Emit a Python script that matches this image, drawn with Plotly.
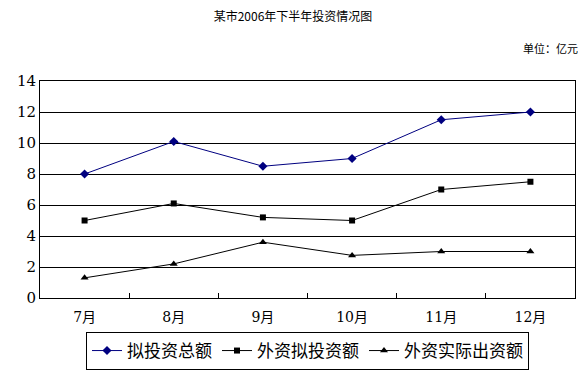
import plotly.graph_objects as go

months = ["7月", "8月", "9月", "10月", "11月", "12月"]
total_planned = [8.0, 10.1, 8.5, 9.0, 11.5, 12.0]
foreign_planned = [5.0, 6.1, 5.2, 5.0, 7.0, 7.5]
foreign_actual = [1.3, 2.2, 3.6, 2.75, 3.0, 3.0]
y_ticks = [0, 2, 4, 6, 8, 10, 12, 14]

NUMFONT = "DejaVu Serif, Noto Sans CJK SC, serif"
CJK = "Noto Sans CJK SC"

fig = go.Figure()
fig.add_trace(go.Scatter(x=months, y=total_planned, name="拟投资总额", mode="lines+markers",
                         line=dict(color="#000080", width=1),
                         marker=dict(symbol="diamond", size=7, color="#000080")))
fig.add_trace(go.Scatter(x=months, y=foreign_planned, name="外资拟投资额", mode="lines+markers",
                         line=dict(color="#000000", width=1),
                         marker=dict(symbol="square", size=6, color="#000000")))
fig.add_trace(go.Scatter(x=months, y=foreign_actual, name="外资实际出资额", mode="lines+markers",
                         line=dict(color="#000000", width=1),
                         marker=dict(symbol="triangle-up", size=7, color="#000000")))

fig.update_layout(
    width=578, height=362,
    margin=dict(l=32, r=11, t=73, b=72),
    paper_bgcolor="white", plot_bgcolor="white",
    font=dict(family=NUMFONT, color="black", size=13),
    showlegend=True,
    title=dict(text="某市2006年下半年投资情况图", x=285 / 578, xref="container", xanchor="center",
               y=1 - 9 / 362, yref="container", yanchor="middle",
               font=dict(size=12, family=CJK, color="black")),
    legend=dict(orientation="h", x=0.5, xanchor="center", y=1 - 343 / 362, yref="container",
                yanchor="middle",
                bordercolor="black", borderwidth=1, font=dict(size=17, family=CJK),
                itemwidth=30, tracegroupgap=0),
    annotations=[
        dict(text="单位：亿元", x=1.009, y=1.15, xref="paper", yref="paper",
             yanchor="middle", xanchor="right", showarrow=False,
             font=dict(size=11, family=CJK)),
    ],
)

fig.update_xaxes(type="category", range=[-0.5, 5.5], showline=True, linecolor="black", linewidth=1,
                 mirror=True, ticks="inside", tickson="boundaries", ticklen=5, tickcolor="black",
                 showgrid=False, tickfont=dict(size=14), zeroline=False, ticklabelstandoff=6,
                 automargin=False)
fig.update_yaxes(range=[0, 14], tickvals=y_ticks, showline=True, linecolor="black", linewidth=1,
                 mirror=True, showgrid=True, gridcolor="black", gridwidth=1, ticks="",
                 tickfont=dict(size=15), zeroline=False, automargin=False)

fig.write_html("out.html")
